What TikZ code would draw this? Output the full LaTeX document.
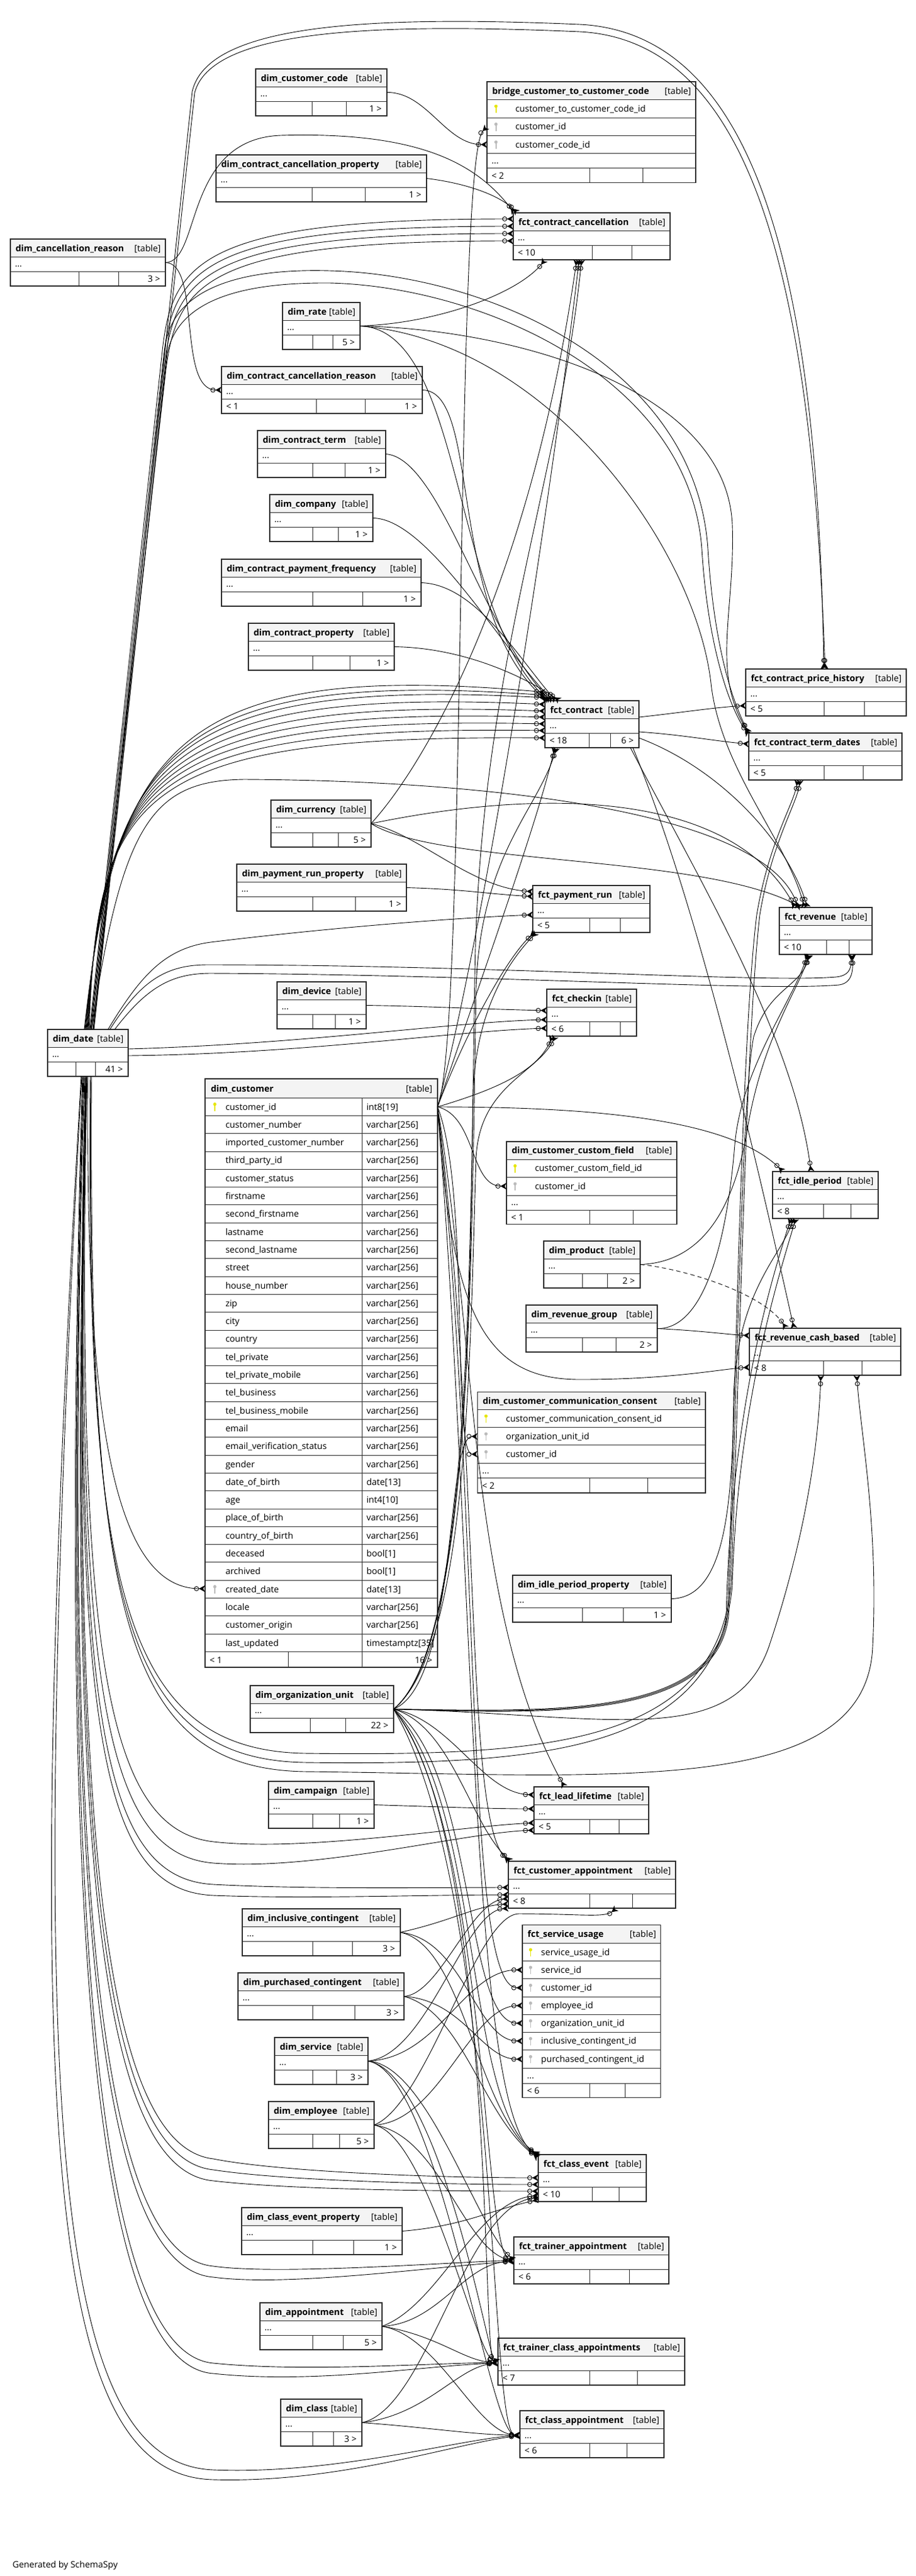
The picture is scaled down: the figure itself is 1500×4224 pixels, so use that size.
\documentclass[tikz,border=0pt]{standalone}
\usepackage{fontspec}
\setmainfont{Open Sans}
\usetikzlibrary{arrows.meta,calc}
\definecolor{hdrfill}{HTML}{F4F4F4}
\definecolor{bdr}{HTML}{2B2B2B}
\definecolor{pkcol}{HTML}{E6E600}
\definecolor{fkcol}{HTML}{BBBBBB}
\tikzset{
  tb/.style={draw=none, inner sep=0pt, outer sep=0pt, anchor=north west},
  fk/.style={line width=0.9pt, -{Circle[open,length=8pt,width=8pt,line width=0.9pt] Stealth[reversed,length=10pt,width=11pt,inset=3pt]}},
  fkd/.style={fk, dash pattern=on 7pt off 5pt},
  ttl/.style={anchor=base west, font=\fontsize{14.5}{16}\selectfont\bfseries},
  tag/.style={anchor=base east},
  txt/.style={anchor=base west},
  rtxt/.style={anchor=base east},
}
\newcommand{\keyicon}[3]{%
  \fill[#3] (#1,#2-4) circle (2.7);
  \draw[#3, line width=1.6pt] (#1,#2-3) -- (#1,#2+7);
}
\newcommand{\stbl}[9]{%
  \node[tb, minimum width={#4-#2}, minimum height=77] (#1) at (#2,#3) {};
  \fill[hdrfill] (#2,#3) rectangle (#4,#3+29);
  \draw[bdr, line width=0.8pt] (#2,#3+29) -- (#4,#3+29) (#2,#3+53) -- (#4,#3+53)
     (#8,#3+53) -- (#8,#3+77) (#9,#3+53) -- (#9,#3+77);
  \draw[bdr, line width=1.3pt] (#1.north west) rectangle (#1.south east);
  \node[ttl] at (#2+5,#3+20) {#5};
  \node[tag] at (#4-4,#3+20) {[table]};
  \node[txt] at (#2+4,#3+45) {...};
  \node[txt] at (#2+4,#3+70) {#6};
  \node[rtxt] at (#4-5,#3+70) {#7};
}
\begin{document}
\begin{tikzpicture}[x=1pt,y=-1pt,font=\fontsize{14.5}{16}\selectfont]
\fill[white] (0,0) rectangle (1500,4224);
\useasboundingbox (0,0) rectangle (1500,4224);

% ---------------- simple tables ----------------
\stbl{ccode}{419}{113}{634}{dim\_customer\_code}{}{1 >}{511}{567}
\stbl{ccprop}{354}{254}{699}{dim\_contract\_cancellation\_property}{}{1 >}{511}{598}
\stbl{fcc}{841}{349}{1098}{fct\_contract\_cancellation}{< 10}{}{970}{1035}
\stbl{canr}{17}{392}{271}{dim\_cancellation\_reason}{}{3 >}{129}{194}
\stbl{rate}{463}{496}{590}{dim\_rate}{}{5 >}{512}{545}
\stbl{ccr}{363}{601}{692}{dim\_contract\_cancellation\_reason}{< 1}{1 >}{518}{598}
\stbl{cterm}{422}{706}{632}{dim\_contract\_term}{}{1 >}{512}{565}
\stbl{comp}{442}{811}{611}{dim\_company}{}{1 >}{512}{554}
\stbl{cpf}{363}{917}{690}{dim\_contract\_payment\_frequency}{}{1 >}{512}{594}
\stbl{cprop}{407}{1022}{646}{dim\_contract\_property}{}{1 >}{512}{573}
\stbl{fc}{893}{1149}{1047}{fct\_contract}{< 18}{6 >}{965}{1000}
\stbl{fcph}{1222}{1097}{1485}{fct\_contract\_price\_history}{< 5}{}{1350}{1416}
\stbl{fctd}{1227}{1202}{1478}{fct\_contract\_term\_dates}{< 5}{}{1350}{1414}
\stbl{fr}{1277}{1488}{1429}{fct\_revenue}{< 10}{}{1354}{1391}
\stbl{cur}{444}{1312}{608}{dim\_currency}{}{5 >}{512}{554}
\stbl{prp}{388}{1417}{666}{dim\_payment\_run\_property}{}{1 >}{512}{582}
\stbl{fpr}{873}{1452}{1065}{fct\_payment\_run}{< 5}{}{966}{1016}
\stbl{dev}{454}{1610}{600}{dim\_device}{}{1 >}{512}{549}
\stbl{fci}{896}{1622}{1043}{fct\_checkin}{< 6}{}{966}{1016}
\stbl{dd}{78}{1688}{210}{dim\_date}{}{41 >}{124}{156}
\stbl{prod}{891}{2035}{1049}{dim\_product}{}{2 >}{954}{995}
\stbl{rg}{862}{2140}{1077}{dim\_revenue\_group}{}{2 >}{954}{1009}
\stbl{fip}{1266}{1921}{1439}{fct\_idle\_period}{< 8}{}{1349}{1394}
\stbl{frcb}{1228}{2178}{1476}{fct\_revenue\_cash\_based}{< 8}{}{1349}{1412}
\stbl{idp}{840}{2583}{1100}{dim\_idle\_period\_property}{}{1 >}{954}{1021}
\stbl{ou}{410}{2764}{645}{dim\_organization\_unit}{}{22 >}{508}{566}
\stbl{camp}{440}{2921}{613}{dim\_campaign}{}{1 >}{512}{556}
\stbl{fll}{875}{2930}{1063}{fct\_lead\_lifetime}{< 5}{}{966}{1014}
\stbl{fca}{833}{3052}{1107}{fct\_customer\_appointment}{< 8}{}{966}{1036}
\stbl{ic}{397}{3130}{656}{dim\_inclusive\_contingent}{}{3 >}{512}{577}
\stbl{pc}{390}{3235}{662}{dim\_purchased\_contingent}{}{3 >}{512}{581}
\stbl{svc}{450}{3341}{603}{dim\_service}{}{3 >}{512}{551}
\stbl{emp}{440}{3446}{613}{dim\_employee}{}{5 >}{512}{556}
\stbl{fce}{882}{3533}{1059}{fct\_class\_event}{< 10}{}{970}{1014}
\stbl{cep}{396}{3620}{659}{dim\_class\_event\_property}{}{1 >}{512}{579}
\stbl{fta}{842}{3668}{1096}{fct\_trainer\_appointment}{< 6}{}{966}{1031}
\stbl{app}{426}{3776}{626}{dim\_appointment}{}{5 >}{512}{562}
\stbl{ftca}{816}{3834}{1122}{fct\_trainer\_class\_appointments}{< 7}{}{966}{1044}
\stbl{cls}{460}{3934}{593}{dim\_class}{}{3 >}{512}{546}
\stbl{fcla}{852}{3953}{1088}{fct\_class\_appointment}{< 6}{}{966}{1027}

% ---------------- bridge_customer_to_customer_code ----------------
\node[tb, minimum width=342, minimum height=165.5] (bridge) at (798,134) {};
\fill[hdrfill] (798,134) rectangle (1140,163.4);
\draw[bdr, line width=0.8pt] (798,163.4) -- (1140,163.4) (798,193) -- (1140,193) (798,222.3) -- (1140,222.3)
  (798,251.6) -- (1140,251.6) (798,275.3) -- (1140,275.3) (966.6,275.3) -- (966.6,299.5) (1053,275.3) -- (1053,299.5);
\draw[bdr, line width=1.3pt] (bridge.north west) rectangle (bridge.south east);
\node[ttl] at (803,154) {bridge\_customer\_to\_customer\_code};
\node[tag] at (1136,154) {[table]};
\keyicon{812.7}{178.2}{pkcol} \node[txt] at (841,183.2) {customer\_to\_customer\_code\_id};
\keyicon{812.7}{207.6}{fkcol} \node[txt] at (841,212.6) {customer\_id};
\keyicon{812.7}{237}{fkcol} \node[txt] at (841,242) {customer\_code\_id};
\node[txt] at (802,268) {...};
\node[txt] at (802,293) {< 2};

% ---------------- dim_customer_custom_field ----------------
\node[tb, minimum width=279, minimum height=135.3] (ccf) at (830,1872) {};
\fill[hdrfill] (830,1872) rectangle (1109,1901);
\draw[bdr, line width=0.8pt] (830,1901) -- (1109,1901) (830,1930.4) -- (1109,1930.4) (830,1960) -- (1109,1960)
  (830,1984) -- (1109,1984) (966.7,1984) -- (966.7,2007.3) (1037,1984) -- (1037,2007.3);
\draw[bdr, line width=1.3pt] (ccf.north west) rectangle (ccf.south east);
\node[ttl] at (835,1891.5) {dim\_customer\_custom\_field};
\node[tag] at (1105,1891.5) {[table]};
\keyicon{844}{1915.7}{pkcol} \node[txt] at (873,1920.7) {customer\_custom\_field\_id};
\keyicon{844}{1945.2}{fkcol} \node[txt] at (873,1950.2) {customer\_id};
\node[txt] at (834,1976.5) {...};
\node[txt] at (834,2001) {< 1};

% ---------------- dim_customer_communication_consent ----------------
\node[tb, minimum width=373.5, minimum height=165.5] (ccc) at (782.5,2282.4) {};
\fill[hdrfill] (782.5,2282.4) rectangle (1156,2311.5);
\draw[bdr, line width=0.8pt] (782.5,2311.5) -- (1156,2311.5) (782.5,2340.6) -- (1156,2340.6) (782.5,2369.7) -- (1156,2369.7)
  (782.5,2399.5) -- (1156,2399.5) (782.5,2423.3) -- (1156,2423.3) (966.7,2423.3) -- (966.7,2447.9) (1060.9,2423.3) -- (1060.9,2447.9);
\draw[bdr, line width=1.3pt] (ccc.north west) rectangle (ccc.south east);
\node[ttl] at (787.5,2302.2) {dim\_customer\_communication\_consent};
\node[tag] at (1152,2302.2) {[table]};
\keyicon{796.4}{2326}{pkcol} \node[txt] at (825.6,2331) {customer\_communication\_consent\_id};
\keyicon{796.4}{2355.2}{fkcol} \node[txt] at (825.6,2360.2) {organization\_unit\_id};
\keyicon{796.4}{2384.6}{fkcol} \node[txt] at (825.6,2389.6) {customer\_id};
\node[txt] at (786.5,2416) {...};
\node[txt] at (786.5,2441) {< 2};

% ---------------- fct_service_usage ----------------
\node[tb, minimum width=226.7, minimum height=282.6] (fsu) at (856,3156.7) {};
\fill[hdrfill] (856,3156.7) rectangle (1082.7,3186.6);
\draw[bdr, line width=0.8pt] (856,3186.6) -- (1082.7,3186.6) (856,3215.6) -- (1082.7,3215.6) (856,3244.6) -- (1082.7,3244.6)
  (856,3274.1) -- (1082.7,3274.1) (856,3303.1) -- (1082.7,3303.1) (856,3332.1) -- (1082.7,3332.1) (856,3361.2) -- (1082.7,3361.2)
  (856,3391.5) -- (1082.7,3391.5) (856,3416) -- (1082.7,3416) (966.3,3416) -- (966.3,3439.3) (1024,3416) -- (1024,3439.3);
\draw[bdr, line width=1.3pt] (fsu.north west) rectangle (fsu.south east);
\node[ttl] at (861,3176.8) {fct\_service\_usage};
\node[tag] at (1078.7,3176.8) {[table]};
\keyicon{869.4}{3201.1}{pkcol} \node[txt] at (883.2,3206.1) {service\_usage\_id};
\keyicon{869.4}{3230.1}{fkcol} \node[txt] at (883.2,3235.1) {service\_id};
\keyicon{869.4}{3259.4}{fkcol} \node[txt] at (883.2,3264.4) {customer\_id};
\keyicon{869.4}{3288.6}{fkcol} \node[txt] at (883.2,3293.6) {employee\_id};
\keyicon{869.4}{3317.6}{fkcol} \node[txt] at (883.2,3322.6) {organization\_unit\_id};
\keyicon{869.4}{3346.7}{fkcol} \node[txt] at (883.2,3351.7) {inclusive\_contingent\_id};
\keyicon{869.4}{3376.4}{fkcol} \node[txt] at (883.2,3381.4) {purchased\_contingent\_id};
\node[txt] at (860,3408.5) {...};
\node[txt] at (860,3433) {< 6};

% ---------------- dim_customer ----------------
\node[tb, minimum width=381, minimum height=965] (cust) at (336,1769) {};
\fill[hdrfill] (336,1769) rectangle (717,1800);
\draw[bdr, line width=0.8pt] (336,1800) -- (717,1800) (593,1800) -- (593,2734) (472,2708.3) -- (472,2734);
\foreach \nm/\ty [count=\i from 0] in {customer\_id/int8[19], customer\_number/varchar[256], imported\_customer\_number/varchar[256], third\_party\_id/varchar[256], customer\_status/varchar[256], firstname/varchar[256], second\_firstname/varchar[256], lastname/varchar[256], second\_lastname/varchar[256], street/varchar[256], house\_number/varchar[256], zip/varchar[256], city/varchar[256], country/varchar[256], tel\_private/varchar[256], tel\_private\_mobile/varchar[256], tel\_business/varchar[256], tel\_business\_mobile/varchar[256], email/varchar[256], email\_verification\_status/varchar[256], gender/varchar[256], date\_of\_birth/date[13], age/int4[10], place\_of\_birth/varchar[256], country\_of\_birth/varchar[256], deceased/bool[1], archived/bool[1], created\_date/date[13], locale/varchar[256], customer\_origin/varchar[256], last\_updated/timestamptz[35]}{
  \pgfmathsetmacro{\ry}{1800+29.3*\i}
  \draw[bdr, line width=0.8pt] (336,\ry+29.3) -- (717,\ry+29.3);
  \node[txt] at (366,\ry+20) {\nm};
  \node[txt] at (597,\ry+20) {\ty};
}
\draw[bdr, line width=2.6pt] (cust.north west) rectangle (cust.south east);
\node[ttl] at (342,1790.5) {dim\_customer};
\node[tag] at (712,1790.5) {[table]};
\keyicon{352}{1814.6}{pkcol}
\keyicon{352}{2605.7}{fkcol}
\node[txt] at (340,2727.5) {< 1};
\node[rtxt] at (712,2727.5) {16 >};

\node[anchor=base west, font=\fontsize{14.5}{16}\selectfont] (gen) at (17,4210) {Generated by SchemaSpy};

% ================= connectors =================
% bridge
\draw[fk] (ccode.east) .. controls (700,151) and (730,237) .. ($(bridge.north west)+(0,103)$);
\draw[fk] ($(cust.north east)+(0,46)$) .. controls (765,1700) and (745,260) .. ($(bridge.north west)+(0,74)$);
% fct_contract_cancellation
\draw[fk] ($(dd.north)+(3,0)$) -- (266,575) .. controls (282,430) and (330,359) .. ($(fcc.north west)+(0,10)$);
\draw[fk] ($(dd.north)+(4,0)$) -- (268,585) .. controls (285,440) and (335,371) .. ($(fcc.north west)+(0,22)$);
\draw[fk] ($(dd.north)+(5,0)$) -- (270,595) .. controls (288,450) and (340,383) .. ($(fcc.north west)+(0,34)$);
\draw[fk] ($(dd.north)+(6,0)$) -- (272,605) .. controls (291,460) and (345,395) .. ($(fcc.north west)+(0,46)$);
\draw[fk] (ccprop.east) .. controls (760,300) and (815,318) .. ($(fcc.north west)+(7,0)$);
\draw[fk] (canr.east) .. controls (330,430) and (300,228) .. (460,222) .. controls (700,215) and (785,275) .. ($(fcc.north west)+(2,0)$);
\draw[fk] (rate.east) .. controls (720,530) and (850,480) .. ($(fcc.south west)+(52,0)$);
\draw[fk] (cur.east) .. controls (700,1250) and (870,950) .. ($(fcc.south west)+(104,0)$);
\draw[fk] ($(cust.north east)+(0,46)$) .. controls (800,1500) and (905,800) .. ($(fcc.south west)+(108,0)$);
\draw[fk] (ou.east) .. controls (770,2700) and (770,2100) .. (778,1600) .. controls (785,1100) and (915,800) .. ($(fcc.south west)+(112,0)$);
% dim_contract_cancellation_reason
\draw[fk] (canr.east) .. controls (330,431) and (290,640) .. (ccr.west);
% fct_contract from dim_date (left)
\foreach \dy/\ax/\ay/\bx/\by/\sx in {-14/190/1230/280/1080/-6, -9/185/1240/270/1095/-5, -5/180/1250/260/1110/-4, 6/177/1258/253/1126/-3, 17/173/1267/247/1142/-2, 27/170/1275/240/1158/-1, 38/167/1283/233/1173/0, 49/163/1292/227/1189/1, 61/160/1300/220/1205/2}{
  \draw[fk] ($(dd.north)+(\sx,0)$) .. controls (\ax,\ay) and (\bx,\by) .. ($(fc.north west)+(0,\dy)$);
}
% fct_contract from top
\draw[fk] (rate.east) .. controls (760,540) and (740,1000) .. ($(fc.north west)+(6,0)$);
\draw[fk] (ccr.east) .. controls (790,640) and (730,1000) .. ($(fc.north west)+(3,0)$);
\draw[fk] (cterm.east) .. controls (720,750) and (790,1030) .. ($(fc.north west)+(9,0)$);
\draw[fk] (comp.east) .. controls (700,850) and (820,1060) .. ($(fc.north west)+(13,0)$);
\draw[fk] (cpf.east) .. controls (780,958) and (850,1080) .. ($(fc.north west)+(18,0)$);
\draw[fk] (cprop.east) .. controls (760,1062) and (860,1110) .. ($(fc.north west)+(24,0)$);
% fct_contract from below
\draw[fk] ($(cust.north east)+(0,46)$) .. controls (790,1600) and (880,1350) .. ($(fc.south west)+(16,0)$);
\draw[fk] (ou.east) .. controls (772,2700) and (772,2100) .. (780,1620) .. controls (788,1400) and (880,1330) .. ($(fc.south west)+(19,0)$);
% fct_contract_price_history
\draw[fk] ($(fc.north east)+(0,27)$) .. controls (1120,1168) and (1170,1160) .. ($(fcph.north west)+(0,60)$);
\draw[fk] ($(dd.north)+(9,0)$) -- (315,150) .. controls (340,40) and (600,25) .. (950,40) .. controls (1250,55) and (1340,480) .. ($(fcph.north west)+(128,0)$);
\draw[fk] ($(dd.north)+(10,0)$) -- (319,152) .. controls (346,50) and (600,37) .. (950,52) .. controls (1240,67) and (1330,480) .. ($(fcph.north west)+(130,0)$);
% fct_contract_term_dates
\draw[fk] ($(fc.north east)+(0,51)$) .. controls (1120,1205) and (1170,1215) .. ($(fctd.north west)+(0,18)$);
\draw[fk] ($(dd.north)+(8,0)$) -- (272,560) .. controls (290,470) and (400,440) .. (540,444) .. controls (800,450) and (1140,600) .. (1160,900) .. controls (1170,1060) and (1200,1150) .. (fctd.north west);
\draw[fk] ($(dd.north)+(9,0)$) -- (274,580) .. controls (292,490) and (400,463) .. (540,464) .. controls (790,470) and (1130,620) .. (1150,900) .. controls (1160,1060) and (1195,1160) .. ($(fctd.north west)+(0,3)$);
\draw[fk] (rate.east) .. controls (850,540) and (1190,640) .. (1200,860) .. controls (1205,1000) and (1165,1100) .. ($(fctd.north west)+(-1,-1)$);
\draw[fk] (ou.east) .. controls (900,2808) and (1170,2820) .. (1192,2650) .. controls (1205,2300) and (1215,1700) .. (1240,1500) .. controls (1260,1380) and (1300,1320) .. ($(fctd.south west)+(80,0)$);
\draw[fk] ($(dd.south)+(4,0)$) .. controls (140,2600) and (200,2870) .. (500,2875) .. controls (900,2880) and (1170,2860) .. (1198,2600) .. controls (1210,2300) and (1222,1700) .. (1245,1500) .. controls (1265,1380) and (1305,1320) .. ($(fctd.south west)+(84,0)$);
% fct_revenue
\draw[fk] ($(fc.north east)+(0,61)$) .. controls (1180,1260) and (1290,1380) .. ($(fr.north west)+(46,0)$);
\draw[fk] (cur.east) .. controls (900,1290) and (1200,1300) .. ($(fr.north west)+(26,0)$);
\draw[fk] (cur.east) .. controls (720,1420) and (1150,1400) .. ($(fr.north west)+(36,0)$);
\draw[fk] ($(dd.north)+(6,0)$) .. controls (200,1350) and (250,1280) .. (400,1278) .. controls (800,1280) and (1250,1330) .. ($(fr.north west)+(31,0)$);
\draw[fk] (rate.east) .. controls (900,560) and (1140,900) .. (1165,1120) .. controls (1180,1260) and (1290,1380) .. ($(fr.north west)+(41,0)$);
\draw[fk] (prod.east) .. controls (1140,2070) and (1200,2000) .. (1225,1850) .. controls (1250,1700) and (1310,1620) .. ($(fr.south west)+(48,0)$);
\draw[fk] (rg.east) .. controls (1150,2180) and (1190,2050) .. (1204,1877) .. controls (1215,1750) and (1300,1640) .. ($(fr.south west)+(46,0)$);
\draw[fk] (ou.east) .. controls (900,2810) and (1172,2822) .. (1194,2650) .. controls (1207,2300) and (1215,1800) .. (1235,1700) .. controls (1260,1620) and (1310,1620) .. ($(fr.south west)+(50,0)$);
\draw[fk] ($(dd.north east)+(-30,0)$) .. controls (230,1610) and (270,1582) .. (340,1582) .. controls (800,1582) and (1250,1612) .. (1370,1602) .. controls (1390,1600) and (1395,1590) .. ($(fr.south west)+(118,0)$);
\draw[fk] ($(dd.north east)+(-22,0)$) .. controls (240,1620) and (280,1596) .. (345,1596) .. controls (800,1598) and (1250,1626) .. (1375,1615) .. controls (1395,1612) and (1398,1595) .. ($(fr.south west)+(120,0)$);
% fct_payment_run
\draw[fk] (prp.east) .. controls (760,1458) and (800,1466) .. ($(fpr.north west)+(0,18)$);
\draw[fk] (cur.east) .. controls (690,1370) and (770,1455) .. ($(fpr.north west)+(0,10)$);
\draw[fk] ($(dd.north east)+(-33,0)$) .. controls (230,1600) and (270,1555) .. (345,1545) .. controls (550,1520) and (750,1505) .. ($(fpr.north west)+(0,48)$);
\draw[fk] ($(cust.north east)+(0,46)$) .. controls (760,1700) and (830,1570) .. ($(fpr.south west)+(3,0)$);
\draw[fk] (ou.east) .. controls (770,2700) and (770,2100) .. (775,1800) .. controls (778,1650) and (840,1570) .. ($(fpr.south west)+(6,0)$);
% fct_checkin
\draw[fk] (dev.east) .. controls (700,1650) and (800,1655) .. ($(fci.north west)+(0,35)$);
\draw[fk] ($(dd.north east)+(0,32)$) .. controls (500,1712) and (750,1675) .. ($(fci.north west)+(0,50)$);
\draw[fk] ($(dd.north east)+(0,43)$) .. controls (500,1728) and (750,1690) .. ($(fci.north west)+(0,64)$);
\draw[fk] ($(cust.north east)+(0,46)$) .. controls (800,1790) and (880,1760) .. ($(fci.south west)+(9,0)$);
\draw[fk] (ou.east) .. controls (770,2700) and (770,2200) .. (780,1900) .. controls (785,1780) and (880,1760) .. ($(fci.south west)+(14,0)$);
% dim_customer.created_date
\draw[fk] (dd.south) .. controls (140,2300) and (180,2605) .. ($(cust.north west)+(0,836)$);
% dim_customer_custom_field
\draw[fk] ($(cust.north east)+(0,46)$) .. controls (780,1830) and (770,1945) .. ($(ccf.north west)+(0,73)$);
% fct_idle_period
\draw[fk] ($(cust.north east)+(0,46)$) .. controls (1000,1815) and (1200,1840) .. ($(fip.north west)+(17,0)$);
\draw[fk] ($(fc.south east)+(-14,0)$) .. controls (1150,1450) and (1300,1700) .. ($(fip.north west)+(63,0)$);
\draw[fk] (idp.east) .. controls (1180,2620) and (1200,2500) .. (1202,2300) .. controls (1204,2120) and (1280,2060) .. ($(fip.south west)+(34,0)$);
\draw[fk] (ou.east) .. controls (900,2806) and (1168,2818) .. (1190,2650) .. controls (1198,2300) and (1270,2080) .. ($(fip.south west)+(30,0)$);
\draw[fk] ($(dd.south)+(5,0)$) .. controls (142,2620) and (200,2885) .. (500,2890) .. controls (900,2895) and (1175,2870) .. (1200,2600) .. controls (1208,2300) and (1280,2080) .. ($(fip.south west)+(38,0)$);
% fct_revenue_cash_based
\draw[fk] (rg.east) .. controls (1150,2182) and (1190,2188) .. ($(frcb.north west)+(0,12)$);
\draw[fkd] (prod.east) .. controls (1120,2080) and (1250,2120) .. ($(frcb.north west)+(60,0)$);
\draw[fk] ($(fc.south east)+(-10,0)$) .. controls (1150,1500) and (1250,1950) .. ($(frcb.north west)+(73,0)$);
\draw[fk] ($(cust.north east)+(0,46)$) .. controls (740,2150) and (790,2262) .. (950,2262) .. controls (1100,2262) and (1180,2245) .. ($(frcb.north west)+(0,64)$);
\draw[fk] (ou.east) .. controls (1000,2812) and (1200,2870) .. (1260,2700) .. controls (1310,2550) and (1340,2400) .. ($(frcb.south west)+(117,0)$);
\draw[fk] ($(dd.south)+(6,0)$) .. controls (145,2640) and (200,2900) .. (500,2905) .. controls (1000,2910) and (1420,2950) .. (1430,2700) .. controls (1440,2500) and (1410,2350) .. ($(frcb.south west)+(176,0)$);
% dim_customer_communication_consent
\draw[fk] (ou.east) .. controls (750,2760) and (730,2355) .. ($(ccc.north west)+(0,73)$);
\draw[fk] ($(cust.north east)+(0,46)$) .. controls (770,1950) and (740,2385) .. ($(ccc.north west)+(0,102)$);
% fct_lead_lifetime
\draw[fk] (ou.east) .. controls (740,2820) and (790,2940) .. ($(fll.north west)+(0,13)$);
\draw[fk] (camp.east) .. controls (700,2962) and (800,2966) .. ($(fll.north west)+(0,36)$);
\draw[fk] ($(dd.south)+(-2,0)$) .. controls (125,2700) and (170,3000) .. (350,3020) .. controls (500,3037) and (750,2995) .. ($(fll.north west)+(0,59)$);
\draw[fk] ($(dd.south)+(-3,0)$) .. controls (122,2750) and (165,3040) .. (350,3055) .. controls (520,3068) and (760,3005) .. ($(fll.north west)+(0,71)$);
\draw[fk] ($(cust.north east)+(0,46)$) .. controls (780,2200) and (770,2650) .. ($(fll.north west)+(50,0)$);
% fct_customer_appointment
\draw[fk] (ou.east) .. controls (740,2830) and (770,2990) .. ($(fca.north west)+(4,0)$);
\draw[fk] ($(cust.north east)+(0,46)$) .. controls (790,2400) and (760,2980) .. ($(fca.north west)+(1,0)$);
\draw[fk] ($(dd.south)+(-4,0)$) .. controls (120,2800) and (160,3080) .. (350,3090) .. controls (500,3098) and (700,3095) .. ($(fca.north west)+(0,43)$);
\draw[fk] ($(dd.south)+(-5,0)$) .. controls (118,2830) and (158,3100) .. (350,3108) .. controls (500,3114) and (700,3107) .. ($(fca.north west)+(0,55)$);
\draw[fk] (pc.east) .. controls (720,3270) and (770,3120) .. ($(fca.north west)+(0,61)$);
\draw[fk] (ic.east) .. controls (740,3150) and (780,3125) .. ($(fca.north west)+(0,70)$);
\draw[fk] (svc.east) .. controls (700,3370) and (760,3135) .. ($(fca.north west)+(0,77)$);
\draw[fk] (emp.east) .. controls (700,3450) and (780,3140) .. (850,3138) .. controls (950,3138) and (990,3145) .. ($(fca.south west)+(177,0)$);
% fct_service_usage
\draw[fk] (svc.east) .. controls (720,3375) and (760,3230) .. ($(fsu.north west)+(0,73.4)$);
\draw[fk] ($(cust.north east)+(0,46)$) .. controls (790,2500) and (760,3260) .. ($(fsu.north west)+(0,102.7)$);
\draw[fk] (emp.east) .. controls (720,3480) and (770,3290) .. ($(fsu.north west)+(0,131.9)$);
\draw[fk] (ou.east) .. controls (780,2900) and (760,3317) .. ($(fsu.north west)+(0,160.9)$);
\draw[fk] (ic.east) .. controls (760,3180) and (780,3346) .. ($(fsu.north west)+(0,190)$);
\draw[fk] (pc.east) .. controls (760,3280) and (790,3377) .. ($(fsu.north west)+(0,219.7)$);
% fct_class_event
\draw[fk] (ou.east) .. controls (790,2950) and (760,3450) .. (fce.north west);
\draw[fk] ($(cust.north east)+(0,46)$) .. controls (780,2600) and (770,3460) .. ($(fce.north west)+(0,2)$);
\draw[fk] (ic.east) .. controls (760,3190) and (780,3460) .. ($(fce.north west)+(0,4)$);
\draw[fk] (pc.east) .. controls (760,3300) and (790,3470) .. ($(fce.north west)+(0,6)$);
\draw[fk] ($(dd.south)+(-1,0)$) .. controls (110,3000) and (170,3520) .. (350,3540) .. controls (450,3560) and (700,3571) .. ($(fce.north west)+(0,38)$);
\draw[fk] ($(dd.south)+(-2,0)$) .. controls (108,3030) and (168,3540) .. (350,3558) .. controls (460,3575) and (700,3582) .. ($(fce.north west)+(0,49)$);
\draw[fk] ($(dd.south)+(-3,0)$) .. controls (106,3060) and (166,3560) .. (350,3576) .. controls (470,3590) and (700,3593) .. ($(fce.north west)+(0,60)$);
\draw[fk] (cep.east) .. controls (760,3650) and (800,3625) .. ($(fce.south west)+(0,-3)$);
\draw[fk] (app.east) .. controls (720,3780) and (780,3610) .. ($(fce.north west)+(0,67)$);
\draw[fk] (cls.east) .. controls (700,3950) and (760,3620) .. ($(fce.north west)+(0,70)$);
% fct_trainer_appointment
\draw[fk] ($(dd.south)+(-6,0)$) .. controls (100,3150) and (170,3700) .. (350,3716) .. controls (450,3730) and (700,3712) .. ($(fta.north west)+(0,38)$);
\draw[fk] ($(dd.south)+(-7,0)$) .. controls (98,3180) and (168,3720) .. (350,3734) .. controls (470,3750) and (700,3718) .. ($(fta.north west)+(0,40)$);
\draw[fk] (emp.east) .. controls (720,3500) and (760,3690) .. ($(fta.north west)+(0,39)$);
\draw[fk] (app.east) .. controls (720,3810) and (760,3710) .. ($(fta.north west)+(0,40)$);
\draw[fk] (svc.east) .. controls (700,3385) and (780,3650) .. ($(fta.north west)+(0,38)$);
\draw[fk] (ou.east) .. controls (800,3000) and (790,3690) .. ($(fta.north west)+(0,38)$);
% fct_trainer_class_appointments
\draw[fk] ($(dd.south)+(-8,0)$) .. controls (95,3250) and (170,3860) .. (350,3875) .. controls (500,3890) and (700,3875) .. ($(ftca.north west)+(0,40)$);
\draw[fk] ($(dd.south)+(-9,0)$) .. controls (92,3280) and (168,3880) .. (350,3892) .. controls (520,3910) and (700,3878) .. ($(ftca.north west)+(0,41)$);
\draw[fk] (emp.east) .. controls (700,3500) and (780,3860) .. ($(ftca.north west)+(0,40)$);
\draw[fk] (app.east) .. controls (720,3830) and (760,3872) .. ($(ftca.north west)+(0,40)$);
\draw[fk] (cls.east) .. controls (700,3960) and (750,3880) .. ($(ftca.north west)+(0,41)$);
\draw[fk] (ou.east) .. controls (810,3000) and (790,3860) .. ($(ftca.north west)+(0,40)$);
\draw[fk] (svc.east) .. controls (720,3400) and (800,3860) .. ($(ftca.north west)+(0,39)$);
% fct_class_appointment
\draw[fk] ($(dd.south)+(-10,0)$) .. controls (40,3500) and (90,4040) .. (350,4050) .. controls (550,4058) and (750,4000) .. ($(fcla.north west)+(0,40)$);
\draw[fk] ($(dd.south)+(-11,0)$) .. controls (30,3550) and (85,4060) .. (350,4066) .. controls (560,4072) and (750,4005) .. ($(fcla.north west)+(0,41)$);
\draw[fk] (cls.east) .. controls (700,3980) and (780,3993) .. ($(fcla.north west)+(0,40)$);
\draw[fk] (app.east) .. controls (720,3830) and (780,3990) .. ($(fcla.north west)+(0,40)$);
\draw[fk] (ou.east) .. controls (820,3100) and (800,3990) .. ($(fcla.north west)+(0,40)$);
\draw[fk] (svc.east) .. controls (720,3400) and (800,3990) .. ($(fcla.north west)+(0,40)$);
\end{tikzpicture}
\end{document}
